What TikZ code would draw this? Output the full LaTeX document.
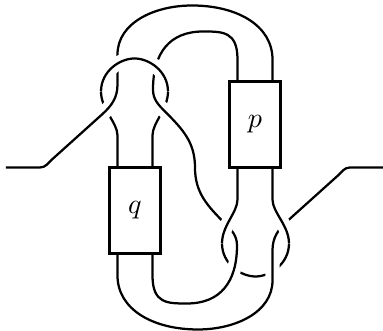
\documentclass[tikz,border=0pt]{standalone}
\usetikzlibrary{calc}
\pgfdeclarelayer{knot}
\pgfsetlayers{knot,main}
\tikzset{
  strand/.style={line width=0.8pt},
  overstrand/.style={strand,preaction={draw,white,line width=5pt}},
  box/.style={draw,line width=0.9pt,outer sep=0pt,inner sep=0pt,
    minimum width=6.44mm,minimum height=10.75mm}
}
\begin{document}
\begin{tikzpicture}[x=1.25mm,y=1.25mm]
   \useasboundingbox (-19.5,-16.35) rectangle (18.8,16.75);
   \node[box] (p) at (6,4.3) {$p$};
   \node[box] (q) at (-6,-4.3) {$q$};
   \foreach \b in {p,q} {
    \coordinate (\b-nw) at ($(\b.north)+(-1.75,0)$);
    \coordinate (\b-ne) at ($(\b.north)+(1.75,0)$);
    \coordinate (\b-sw) at ($(\b.south)+(-1.75,0)$);
    \coordinate (\b-se) at ($(\b.south)+(1.75,0)$);
   }
   \begin{pgfonlayer}{knot}
   % pieces that pass under
   \draw[strand] (q-nw) -- (-7.75,3.2) .. controls (-7.75,4.5) and (-9.4,5.8) .. (-9.4,7.6);
   \draw[strand] (q-ne) -- (-4.25,3.2) .. controls (-4.25,4.5) and (-2.7,5.8) .. (-2.7,7.6);
   \draw[strand] (9.4,-7.6) .. controls (9.4,-9.6) and (7.55,-10.9) .. (6.05,-10.9)
      .. controls (4.55,-10.9) and (2.7,-9.6) .. (2.7,-7.6);
   % long strands
   \draw[overstrand] (-18.9,0) -- (-15.5,0) to[out=0,in=222] (-14.3,0.8) -- (-9.3,5.3)
      to[out=42,in=-90] (-7.75,8.3) -- (-7.75,11.3)
      .. controls (-7.75,14.5) and (-4,16.2) .. (-0.3,16.2)
      .. controls (4.2,16.2) and (7.75,14.2) .. (7.75,10.8) -- (p-ne);
   \draw[overstrand] (p-nw) -- (4.25,10.8) .. controls (4.25,13.6) and (2.8,13.6) .. (0.8,13.6)
      .. controls (-2.5,13.6) and (-4.2,11.5) .. (-4.2,7.8) to[out=-90,in=135] (-3,5.6)
      .. controls (-1.2,3.8) and (0,2.5) .. (0,0) .. controls (0,-2.5) and (1.2,-3.8) .. (3,-5.6)
      to[out=-45,in=90] (4.2,-7.8) .. controls (4.2,-11.5) and (2.5,-13.6) .. (-0.8,-13.6)
      .. controls (-2.8,-13.6) and (-4.25,-13.6) .. (-4.25,-10.8) -- (q-se);
   \draw[overstrand] (18.9,0) -- (15.5,0) to[out=180,in=42] (14.3,-0.8) -- (9.3,-5.3)
      to[out=222,in=90] (7.75,-8.3) -- (7.75,-11.3)
      .. controls (7.75,-14.5) and (4,-16.2) .. (0.3,-16.2)
      .. controls (-4.2,-16.2) and (-7.75,-14.2) .. (-7.75,-10.8) -- (q-sw);
   % pieces that pass over
   \draw[overstrand] (-9.4,7.6) .. controls (-9.4,9.6) and (-7.55,10.9) .. (-6.05,10.9)
      .. controls (-4.55,10.9) and (-2.7,9.6) .. (-2.7,7.6);
   \draw[overstrand] (p-sw) -- (4.25,-3.2) .. controls (4.25,-4.5) and (2.7,-5.8) .. (2.7,-7.6);
   \draw[overstrand] (p-se) -- (7.75,-3.2) .. controls (7.75,-4.5) and (9.4,-5.8) .. (9.4,-7.6);
   \end{pgfonlayer}
\end{tikzpicture}
\end{document}
